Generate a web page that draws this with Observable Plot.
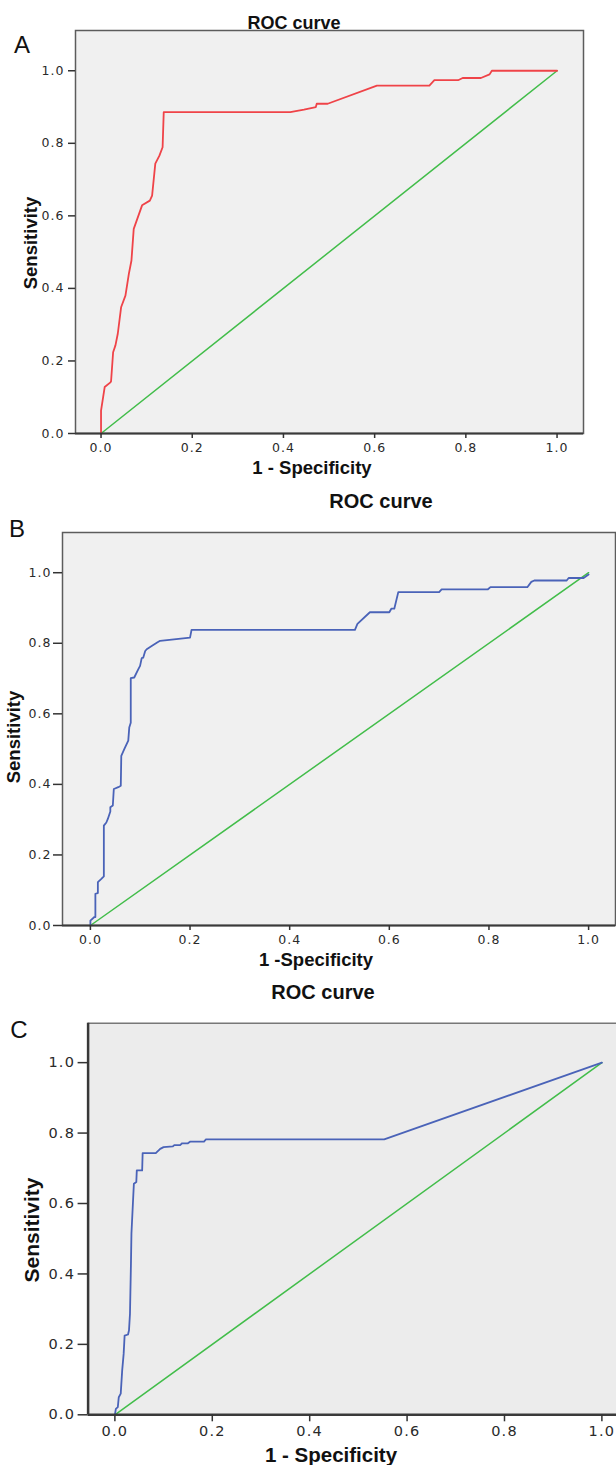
<!DOCTYPE html>
<html>
<head>
<meta charset="utf-8">
<script src="https://cdn.jsdelivr.net/npm/d3@7"></script>
<script src="https://cdn.jsdelivr.net/npm/@observablehq/plot@0.6"></script>
<style>
  body { margin: 0; background: #fff; }
  #page { position: relative; width: 616px; height: 1465px; overflow: hidden; background: #fff; }
  .plotbox { position: absolute; left: 0; }
  .lbl { position: absolute; white-space: nowrap; color: #111; font-family: "Liberation Sans", Arial, sans-serif; line-height: 1; }
</style>
</head>
<body>
<div id="page"></div>
<script>
// ---------------- DATA ----------------
const panelLetters = ["A", "B", "C"];
const panelTitles = ["ROC curve", "ROC curve", "ROC curve"];
const xAxisLabels = ["1 - Specificity", "1 -Specificity", "1 - Specificity"];
const yAxisLabels = ["Sensitivity", "Sensitivity", "Sensitivity"];
const tickValues = [0, 0.2, 0.4, 0.6, 0.8, 1.0];

// reference (chance) line
const diagFpr = [0, 1];
const diagTpr = [0, 1];

// Panel A ROC curve
const fprA = [0, 0, 0.0046, 0.008, 0.0206, 0.022, 0.0265, 0.0316, 0.0367, 0.044, 0.0535, 0.061, 0.0667, 0.0717, 0.090, 0.107, 0.112, 0.119, 0.128, 0.135, 0.1375, 0.415, 0.445, 0.471, 0.473, 0.497, 0.605, 0.72, 0.731, 0.783, 0.793, 0.833, 0.852, 0.857, 1.0];
const tprA = [0, 0.063, 0.100, 0.128, 0.141, 0.144, 0.224, 0.243, 0.275, 0.348, 0.380, 0.440, 0.477, 0.564, 0.629, 0.642, 0.656, 0.744, 0.766, 0.789, 0.886, 0.886, 0.893, 0.900, 0.909, 0.909, 0.959, 0.959, 0.974, 0.974, 0.980, 0.980, 0.990, 1.0, 1.0];

// Panel B ROC curve
const fprB = [0, 0, 0.008, 0.010, 0.010, 0.015, 0.015, 0.022, 0.027, 0.027, 0.032, 0.035, 0.040, 0.040, 0.045, 0.047, 0.056, 0.061, 0.062, 0.068, 0.076, 0.078, 0.081, 0.081, 0.088, 0.096, 0.0997, 0.103, 0.106, 0.110, 0.113, 0.123, 0.134, 0.140, 0.200, 0.203, 0.531, 0.536, 0.561, 0.600, 0.604, 0.610, 0.618, 0.700, 0.705, 0.798, 0.803, 0.877, 0.885, 0.891, 0.956, 0.960, 0.990, 1.0];
const tprB = [0, 0.014, 0.024, 0.024, 0.090, 0.092, 0.123, 0.132, 0.139, 0.283, 0.292, 0.302, 0.323, 0.335, 0.340, 0.387, 0.392, 0.396, 0.481, 0.500, 0.524, 0.561, 0.575, 0.701, 0.703, 0.726, 0.736, 0.758, 0.759, 0.778, 0.783, 0.792, 0.802, 0.807, 0.816, 0.838, 0.838, 0.855, 0.888, 0.888, 0.898, 0.898, 0.945, 0.945, 0.953, 0.953, 0.959, 0.959, 0.974, 0.978, 0.978, 0.985, 0.985, 0.995];

// Panel C ROC curve
const fprC = [0, 0.002, 0.006, 0.008, 0.012, 0.015, 0.018, 0.020, 0.027, 0.029, 0.031, 0.033, 0.034, 0.037, 0.039, 0.044, 0.045, 0.056, 0.057, 0.084, 0.093, 0.100, 0.119, 0.122, 0.134, 0.138, 0.150, 0.155, 0.183, 0.187, 0.553, 1.0];
const tprC = [0, 0.017, 0.022, 0.050, 0.060, 0.126, 0.173, 0.225, 0.228, 0.240, 0.287, 0.430, 0.515, 0.600, 0.656, 0.661, 0.694, 0.694, 0.743, 0.743, 0.755, 0.760, 0.762, 0.766, 0.766, 0.771, 0.771, 0.776, 0.776, 0.782, 0.782, 1.0];

// ---------------- LAYOUT ----------------
const panels = [
  { fpr: fprA, tpr: tprA, color: "#ef4348", top: 0, height: 480,
    margin: {top: 30, right: 33, bottom: 47, left: 75},
    xDomain: [-0.056, 1.058], yDomain: [0, 1.111],
    bg: "#f0f0f0", full: true,
    tickFont: 12.5, tickLS: "1px", yTickSize: 7, yTickPad: 4, xTickSize: 5, xTickPad: 5,
    title: {x: 294, y: 23, size: 18}, letter: {x: 22, y: 45, size: 24},
    xl: {x: 312, y: 468, size: 18.5}, yl: {x: 31, y: 243, size: 18.5} },
  { fpr: fprB, tpr: tprB, color: "#4a63b8", top: 480, height: 480,
    margin: {top: 52, right: 1, bottom: 35, left: 62},
    xDomain: [-0.056, 1.054], yDomain: [0, 1.114],
    bg: "#f0f0f0", full: true,
    tickFont: 12.5, tickLS: "1px", yTickSize: 9, yTickPad: 2, xTickSize: 5, xTickPad: 5,
    title: {x: 381, y: 501, size: 20}, letter: {x: 17, y: 529, size: 24},
    xl: {x: 316, y: 960, size: 18.5}, yl: {x: 14, y: 737, size: 18.5} },
  { fpr: fprC, tpr: tprC, color: "#4a63b8", top: 970, height: 495,
    margin: {top: 52.7, right: 0, bottom: 50.7, left: 87.6},
    xDomain: [-0.055, 1.03], yDomain: [0, 1.112],
    bg: "#ececec", full: false,
    tickFont: 14.5, tickLS: "1.2px", yTickSize: 10, yTickPad: 3, xTickSize: 7, xTickPad: 4,
    title: {x: 323, y: 992, size: 20}, letter: {x: 19, y: 1030, size: 24},
    xl: {x: 331, y: 1455, size: 20.5}, yl: {x: 31, y: 1230, size: 21} }
];

const page = document.getElementById("page");
const fmt = d3.format(".1f");

function addLabel(text, pos, opts = {}) {
  const d = document.createElement("div");
  d.className = "lbl";
  d.textContent = text;
  d.style.left = pos.x + "px";
  d.style.top = pos.y + "px";
  d.style.fontSize = pos.size + "px";
  d.style.fontWeight = opts.bold ? "bold" : "normal";
  d.style.transform = "translate(-50%, -50%)" + (opts.rotate ? " rotate(-90deg)" : "");
  page.appendChild(d);
}

panels.forEach((p, i) => {
  const curve = p.fpr.map((f, j) => ({fpr: f, tpr: p.tpr[j]}));
  const diag = diagFpr.map((f, j) => ({fpr: f, tpr: diagTpr[j]}));
  const marks = [];
  if (p.full) {
    marks.push(Plot.frame({fill: p.bg, stroke: "#5c5c5c", strokeWidth: 1.5}));
  } else {
    marks.push(Plot.frame({fill: p.bg, stroke: null}));
    marks.push(Plot.ruleY([p.yDomain[1]], {stroke: "#777", strokeWidth: 1.5}));
    marks.push(Plot.ruleX([p.xDomain[0]], {stroke: "#383838", strokeWidth: 2.5}));
  }
  marks.push(Plot.line(diag, {x: "fpr", y: "tpr", stroke: "#42bd4a", strokeWidth: 1.5}));
  marks.push(Plot.line(curve, {x: "fpr", y: "tpr", stroke: p.color, strokeWidth: 1.8}));
  marks.push(Plot.ruleY([0], {stroke: "#3a3a3a", strokeWidth: p.full ? 2 : 2.5}));
  marks.push(Plot.axisY(tickValues, {
    tickSize: p.yTickSize, tickPadding: p.yTickPad, tickFormat: fmt,
    stroke: "#333", strokeWidth: 1.5, fill: "#2a2a2a", label: null, fontSize: p.tickFont
  }));
  marks.push(Plot.axisX(tickValues, {
    tickSize: p.xTickSize, tickPadding: p.xTickPad, tickFormat: fmt,
    stroke: "#333", strokeWidth: 1.5, fill: "#2a2a2a", label: null, fontSize: p.tickFont
  }));
  const chart = Plot.plot({
    width: 616,
    height: p.height,
    marginTop: p.margin.top, marginRight: p.margin.right,
    marginBottom: p.margin.bottom, marginLeft: p.margin.left,
    x: {domain: p.xDomain, axis: null},
    y: {domain: p.yDomain, axis: null},
    style: {background: "transparent", fontFamily: "'DejaVu Sans', sans-serif", fontSize: p.tickFont + "px", letterSpacing: p.tickLS, overflow: "visible"},
    marks
  });
  const holder = document.createElement("div");
  holder.className = "plotbox";
  holder.style.top = p.top + "px";
  holder.appendChild(chart);
  page.appendChild(holder);

  addLabel(panelTitles[i], p.title, {bold: true});
  addLabel(panelLetters[i], p.letter);
  addLabel(xAxisLabels[i], p.xl, {bold: true});
  addLabel(yAxisLabels[i], p.yl, {bold: true, rotate: true});
});
</script>
</body>
</html>
